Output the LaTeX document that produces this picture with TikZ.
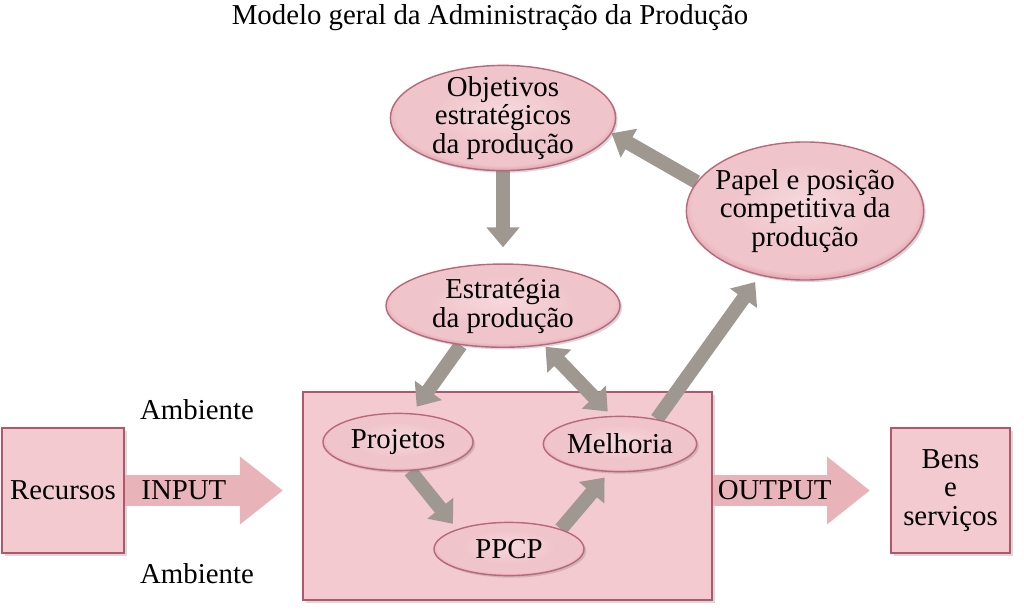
\documentclass[tikz,border=0pt]{standalone}
\usepackage{fontspec}
\setmainfont{Liberation Serif}
\usetikzlibrary{arrows.meta, positioning, shapes.geometric, shadows, backgrounds}

\definecolor{rosafundo}{HTML}{F2CACF}
\definecolor{rosaborda}{HTML}{B3566C}
\definecolor{elcentro}{HTML}{F6D9DD}
\definecolor{elmeio}{HTML}{EFC4CA}
\definecolor{elborda}{HTML}{C25F73}
\definecolor{setacinza}{HTML}{9E9891}
\definecolor{setarosa}{HTML}{E8B4BA}

\pgfdeclareradialshading{elipserosa}{\pgfpoint{0bp}{3bp}}{%
  color(0bp)=(elcentro); color(16bp)=(elmeio); color(24bp)=(elmeio); color(32bp)=(elborda); color(50bp)=(elborda)}

\begin{document}
\begin{tikzpicture}[
  x=0.025cm, y=-0.025cm,
  every node/.style={font=\fontsize{20.5}{20.5}\selectfont, align=center, inner sep=1pt},
  elipse/.style={ellipse, draw=rosaborda!90, line width=1pt, shading=elipserosa,
    drop shadow={shadow xshift=1.5pt, shadow yshift=-1.5pt, opacity=0.3}},
  caixa/.style={rectangle, draw=rosaborda, line width=1.2pt, fill=rosafundo,
    drop shadow={shadow xshift=2pt, shadow yshift=-2pt, opacity=0.3}},
  seta/.style={draw=setacinza, line width=10pt},
  ponta/.tip={Triangle[length=0.5cm, width=0.8cm]},
  setalarga/.style={draw=setarosa, line width=22pt, -{Triangle[length=1.075cm, width=1.625cm]}},
]
  \useasboundingbox (0,0) rectangle (1024,610);

  % Titulo
  \node (titulo) at (490,18) {Modelo geral da Administração da Produção};

  % Caixa do sistema de producao (fica no fundo)
  \begin{pgfonlayer}{background}
    \node[caixa, minimum width=10.225cm, minimum height=5.2cm] (sistema) at (507.5,496) {};
  \end{pgfonlayer}

  % Elipses de cima
  \node[elipse, inner ysep=-5pt, minimum width=5.63cm, minimum height=2.63cm] (objetivos) at (503,118)
    {Objetivos\\estratégicos\\da produção};
  \node[elipse, inner ysep=-2pt, minimum width=5.85cm, minimum height=2.08cm, below=2.3cm of objetivos] (estrategia)
    {Estratégia\\da produção};
  \node[elipse, inner xsep=-6pt, inner ysep=-1pt, minimum width=5.93cm, minimum height=3.45cm] (papel) at (805,211)
    {Papel e posição\\competitiva da\\produção};

  % Elipses dentro da caixa
  \node[elipse, minimum width=3.75cm, minimum height=1.43cm] (projetos) at (398,442) {Projetos};
  \node[elipse, minimum width=3.73cm, minimum height=1.38cm] (melhoria) at (620,444) {Melhoria};
  \node[elipse, minimum width=3.75cm, minimum height=1.33cm] (ppcp) at (509,549) {PPCP};

  % Entrada e saida
  \node[caixa, minimum width=3.05cm, minimum height=3.13cm] (recursos) at (63,490.5) {Recursos};
  \node[caixa, minimum width=2.98cm, minimum height=3.13cm] (bens) at (950.5,490.5)
    {Bens\\e\\serviços};
  \node (ambiente1) at (197,410) {Ambiente};
  \node (ambiente2) at (197,574) {Ambiente};

  \coordinate (inputfim) at (283,490.5);
  \coordinate (outputfim) at (870,490.5);
  \draw[setalarga] (recursos.east) -- (inputfim) node[midway, xshift=-0.5cm] {INPUT};
  \draw[setalarga] (sistema.east |- outputfim) -- (outputfim) node[midway, xshift=-0.42cm] {OUTPUT};

  % Setas cinzas
  \begin{pgfonlayer}{background}
    \draw[seta, -ponta, shorten >=0.4cm] (objetivos.south) -- (estrategia.north);
    \draw[seta, -ponta] (papel.165) -- (objetivos.-8);
    \draw[seta, -ponta, shorten >=0.2cm] (estrategia.-137) -- (projetos.64);
    \draw[seta, ponta-ponta, shorten <=0.05cm, shorten >=0.15cm] (estrategia.-44) -- (melhoria.106);
    \draw[seta, -ponta, shorten >=0.2cm] (melhoria.34) -- (papel.-125);
    \draw[seta, -ponta, shorten >=0.17cm] (projetos.-67) -- (ppcp.159);
    \draw[seta, -ponta, shorten >=0.18cm] (ppcp.21) -- (melhoria.-111);
  \end{pgfonlayer}

\end{tikzpicture}
\end{document}
